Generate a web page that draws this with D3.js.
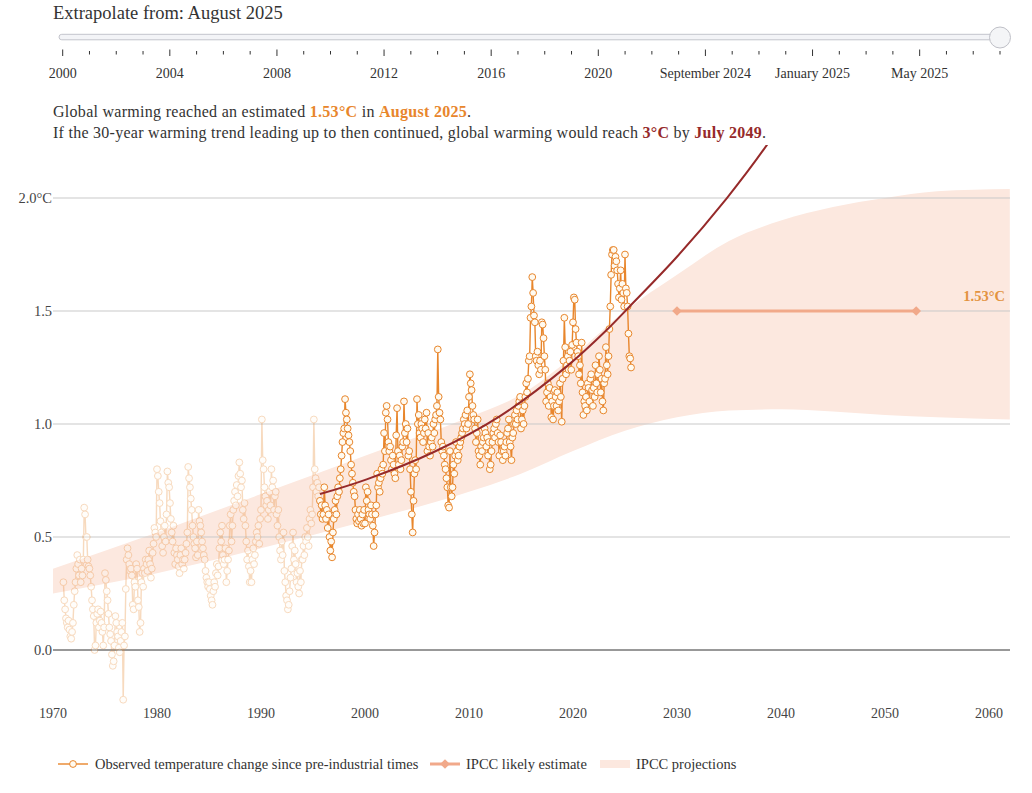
<!DOCTYPE html>
<html>
<head>
<meta charset="utf-8">
<script src="https://cdn.jsdelivr.net/npm/d3@7"></script>
<style>
  body { margin: 0; background: #fff; }
  svg { display: block; font-family: "Liberation Serif", "Times New Roman", serif; }
</style>
</head>
<body>
<div id="container"></div>
<script>
// monthly observed warming since pre-industrial, Jan 1971 .. Aug 2025
const firstYear = 1971;
const observed = [
  0.30, 0.22, 0.18, 0.14, 0.12, 0.10, 0.13, 0.09, 0.06, 0.05, 0.08, 0.12, // 1971
  0.20, 0.26, 0.30, 0.36, 0.42, 0.38, 0.33, 0.40, 0.30, 0.36, 0.33, 0.40, // 1972
  0.63, 0.60, 0.50, 0.50, 0.40, 0.37, 0.36, 0.33, 0.28, 0.22, 0.18, 0.15, // 1973
  0.00, 0.02, 0.12, 0.16, 0.18, 0.10, 0.13, 0.17, 0.12, 0.08, 0.02, 0.10, // 1974
  0.34, 0.31, 0.26, 0.22, 0.16, 0.10, 0.07, 0.04, -0.02, -0.07, -0.05, 0.02, // 1975
  0.15, 0.12, 0.08, 0.06, 0.01, -0.01, 0.04, 0.08, 0.12, -0.22, 0.02, 0.06, // 1976
  0.27, 0.40, 0.45, 0.42, 0.38, 0.35, 0.36, 0.33, 0.20, 0.18, 0.30, 0.28, // 1977
  0.38, 0.36, 0.22, 0.19, 0.08, 0.12, 0.30, 0.34, 0.28, 0.36, 0.34, 0.40, // 1978
  0.38, 0.35, 0.40, 0.44, 0.38, 0.32, 0.36, 0.43, 0.47, 0.54, 0.52, 0.50, // 1979
  0.80, 0.77, 0.70, 0.65, 0.57, 0.52, 0.46, 0.43, 0.50, 0.55, 0.48, 0.60, // 1980
  0.79, 0.74, 0.72, 0.65, 0.58, 0.52, 0.48, 0.55, 0.43, 0.38, 0.45, 0.42, // 1981
  0.40, 0.37, 0.34, 0.42, 0.45, 0.38, 0.40, 0.36, 0.40, 0.43, 0.47, 0.52, // 1982
  0.81, 0.76, 0.72, 0.67, 0.62, 0.55, 0.50, 0.47, 0.45, 0.41, 0.48, 0.42, // 1983
  0.62, 0.57, 0.55, 0.52, 0.48, 0.45, 0.42, 0.40, 0.35, 0.32, 0.30, 0.28, // 1984
  0.30, 0.27, 0.24, 0.22, 0.20, 0.26, 0.30, 0.28, 0.34, 0.38, 0.33, 0.37, // 1985
  0.45, 0.52, 0.48, 0.55, 0.42, 0.38, 0.40, 0.45, 0.30, 0.35, 0.40, 0.44, // 1986
  0.55, 0.60, 0.48, 0.55, 0.62, 0.66, 0.70, 0.64, 0.73, 0.68, 0.77, 0.83, // 1987
  0.78, 0.72, 0.75, 0.62, 0.58, 0.65, 0.55, 0.48, 0.40, 0.44, 0.37, 0.30, // 1988
  0.35, 0.30, 0.40, 0.45, 0.38, 0.42, 0.48, 0.52, 0.50, 0.55, 0.47, 0.58, // 1989
  0.62, 1.02, 0.84, 0.80, 0.72, 0.68, 0.64, 0.66, 0.58, 0.62, 0.70, 0.64, // 1990
  0.80, 0.72, 0.75, 0.62, 0.68, 0.70, 0.60, 0.55, 0.62, 0.50, 0.44, 0.40, // 1991
  0.48, 0.42, 0.52, 0.35, 0.30, 0.24, 0.22, 0.18, 0.20, 0.26, 0.32, 0.36, // 1992
  0.46, 0.52, 0.40, 0.44, 0.38, 0.30, 0.34, 0.28, 0.25, 0.35, 0.30, 0.40, // 1993
  0.40, 0.46, 0.42, 0.50, 0.48, 0.54, 0.50, 0.46, 0.58, 0.62, 0.56, 0.60, // 1994
  0.72, 1.02, 0.80, 0.76, 0.70, 0.74, 0.68, 0.72, 0.66, 0.60, 0.64, 0.58, // 1995
  0.60, 0.72, 0.64, 0.58, 0.62, 0.54, 0.60, 0.50, 0.44, 0.48, 0.41, 0.52, // 1996
  0.58, 0.62, 0.66, 0.60, 0.68, 0.72, 0.70, 0.76, 0.80, 0.86, 0.92, 0.96, // 1997
  0.98, 1.11, 1.05, 1.02, 0.98, 0.95, 0.92, 0.88, 0.82, 0.78, 0.74, 0.70, // 1998
  0.68, 0.62, 0.58, 0.56, 0.60, 0.57, 0.62, 0.58, 0.55, 0.60, 0.56, 0.62, // 1999
  0.56, 0.72, 0.66, 0.70, 0.62, 0.60, 0.58, 0.64, 0.60, 0.55, 0.46, 0.52, // 2000
  0.60, 0.64, 0.78, 0.72, 0.74, 0.70, 0.76, 0.80, 0.78, 0.82, 0.96, 0.88, // 2001
  1.05, 1.08, 1.02, 0.92, 0.88, 0.90, 0.84, 0.80, 0.86, 0.82, 0.78, 0.76, // 2002
  0.95, 1.07, 0.88, 0.82, 0.86, 0.80, 0.84, 0.90, 0.92, 1.10, 0.96, 1.00, // 2003
  0.92, 0.98, 0.86, 0.88, 0.80, 0.70, 0.60, 0.52, 0.66, 0.78, 0.84, 0.80, // 2004
  1.11, 1.00, 1.04, 0.96, 0.94, 1.00, 0.98, 0.92, 0.96, 1.02, 0.98, 1.05, // 2005
  0.88, 0.96, 0.90, 0.86, 0.92, 0.94, 0.90, 1.00, 0.96, 1.02, 1.04, 1.08, // 2006
  1.33, 1.12, 1.05, 1.02, 0.92, 0.88, 0.90, 0.86, 0.82, 0.80, 0.76, 0.72, // 2007
  0.64, 0.63, 0.88, 0.72, 0.68, 0.72, 0.82, 0.78, 0.86, 0.92, 0.88, 0.84, // 2008
  0.86, 0.90, 0.92, 0.94, 0.96, 0.98, 1.02, 1.00, 1.04, 0.98, 1.06, 1.00, // 2009
  1.12, 1.22, 1.18, 1.15, 1.08, 1.04, 1.02, 0.98, 0.92, 0.96, 1.02, 0.88, // 2010
  0.86, 0.82, 0.90, 0.88, 0.92, 0.94, 0.98, 0.96, 0.90, 0.94, 0.86, 0.92, // 2011
  0.80, 0.82, 0.88, 0.92, 0.96, 0.98, 0.94, 1.00, 1.02, 0.96, 0.92, 0.86, // 2012
  0.95, 0.92, 0.88, 0.84, 0.88, 0.90, 0.86, 0.92, 0.96, 0.98, 1.02, 0.92, // 2013
  0.90, 0.84, 0.94, 0.96, 1.00, 1.04, 1.00, 1.06, 1.02, 1.08, 1.10, 1.12, // 2014
  0.98, 1.02, 1.06, 1.00, 1.08, 1.12, 1.18, 1.14, 1.20, 1.28, 1.30, 1.47, // 2015
  1.52, 1.65, 1.58, 1.48, 1.45, 1.30, 1.28, 1.32, 1.26, 1.22, 1.28, 1.24, // 2016
  1.45, 1.44, 1.38, 1.30, 1.24, 1.10, 1.14, 1.18, 1.08, 1.16, 1.12, 1.03, // 2017
  1.10, 1.02, 1.08, 1.15, 1.12, 1.08, 1.14, 1.06, 1.10, 1.18, 1.12, 1.01, // 2018
  1.20, 1.28, 1.47, 1.34, 1.22, 1.26, 1.30, 1.24, 1.28, 1.32, 1.24, 1.35, // 2019
  1.45, 1.56, 1.55, 1.42, 1.36, 1.32, 1.30, 1.22, 1.26, 1.18, 1.36, 1.14, // 2020
  1.04, 1.10, 1.08, 1.12, 1.06, 1.18, 1.16, 1.10, 1.20, 1.22, 1.15, 1.08, // 2021
  1.16, 1.12, 1.26, 1.18, 1.14, 1.22, 1.30, 1.24, 1.14, 1.20, 1.10, 1.06, // 2022
  1.18, 1.20, 1.34, 1.26, 1.22, 1.30, 1.42, 1.52, 1.66, 1.75, 1.77, 1.77, // 2023
  1.70, 1.74, 1.72, 1.68, 1.62, 1.56, 1.60, 1.68, 1.55, 1.62, 1.58, 1.52, // 2024
  1.75, 1.60, 1.58, 1.52, 1.40, 1.30, 1.29, 1.25                          // 2025
];
// start of the 30-year window (September 1995)
const windowStart = 1995 + 8 / 12;

// extrapolated 30-year trend
const trendYears  = [1995.67, 2000.16, 2006.57, 2012.98, 2019.4, 2023.24, 2025.4, 2030, 2034.8, 2038.65, 2049.5];
const trendValues = [0.69, 0.755, 0.875, 1.035, 1.255, 1.416, 1.518, 1.74, 2.0, 2.235, 3.0];

// IPCC projection range
const bandYears = [1970, 1980, 1990, 2000, 2010, 2015, 2020, 2025, 2030, 2035, 2040, 2045, 2050, 2055, 2062];
const bandLow   = [0.25, 0.34, 0.45, 0.57, 0.70, 0.78, 0.88, 0.97, 1.03, 1.06, 1.065, 1.055, 1.04, 1.03, 1.02];
const bandHigh  = [0.36, 0.52, 0.69, 0.86, 1.03, 1.13, 1.30, 1.50, 1.66, 1.81, 1.90, 1.96, 2.00, 2.03, 2.04];

// IPCC likely estimate for reaching 1.5°C
const likelyYears = [2030, 2053];
const likelyValue = 1.5;
const currentWarming = 1.53;

const yTicks = [0, 0.5, 1.0, 1.5, 2.0];
const xTicks = [1970, 1980, 1990, 2000, 2010, 2020, 2030, 2040, 2050, 2060];

// slider: yearly steps 2000-2023, then monthly Sep 2024 - Aug 2025
const sliderTickCount = 36;
const sliderLabels = ["2000", "2004", "2008", "2012", "2016", "2020", "September 2024", "January 2025", "May 2025"];
const sliderValue = 35;

const orange = "#e8862c";
const darkRed = "#962a2a";
const textColor = "#333";

const width = 1032;
const height = 793;

const svg = d3.select("#container").append("svg")
  .attr("width", width)
  .attr("height", height);

// ---- slider ----
svg.append("text")
  .attr("x", 53).attr("y", 19)
  .attr("font-size", 18.5)
  .attr("fill", textColor)
  .text("Extrapolate from: August 2025");

const sx = d3.scaleLinear().domain([0, sliderTickCount - 1]).range([62.7, 1000]);

svg.append("rect")
  .attr("x", 59).attr("y", 34.3)
  .attr("width", 1000 - 59).attr("height", 5.5)
  .attr("rx", 2.75)
  .attr("fill", "#f3f4f7")
  .attr("stroke", "#c4c5cc");

const sliderTicks = svg.append("g");
d3.range(sliderTickCount).forEach((i) => {
  const major = i % 4 === 0;
  sliderTicks.append("line")
    .attr("x1", sx(i)).attr("x2", sx(i))
    .attr("y1", major ? 49.5 : 51).attr("y2", major ? 56 : 54.5)
    .attr("stroke", "#333")
    .attr("stroke-width", 1);
});
sliderTicks.selectAll("text")
  .data(sliderLabels)
  .join("text")
  .attr("x", (d, i) => sx(i * 4))
  .attr("y", 78)
  .attr("text-anchor", "middle")
  .attr("font-size", 14)
  .attr("fill", textColor)
  .text((d) => d);

svg.append("circle")
  .attr("cx", sx(sliderValue)).attr("cy", 37.5)
  .attr("r", 10.5)
  .attr("fill", "#f4f5f7")
  .attr("stroke", "#bfc0c7");

// ---- headline ----
const line1 = svg.append("text")
  .attr("x", 53).attr("y", 117)
  .attr("font-size", 16)
  .attr("fill", textColor)
  .attr("textLength", 418)
  .attr("lengthAdjust", "spacing");
line1.append("tspan").text("Global warming reached an estimated ");
line1.append("tspan").attr("font-weight", "bold").attr("fill", orange).text("1.53°C");
line1.append("tspan").text(" in ");
line1.append("tspan").attr("font-weight", "bold").attr("fill", orange).text("August 2025");
line1.append("tspan").text(".");

const line2 = svg.append("text")
  .attr("x", 53).attr("y", 138)
  .attr("font-size", 16)
  .attr("fill", textColor)
  .attr("textLength", 713)
  .attr("lengthAdjust", "spacing");
line2.append("tspan").text("If the 30-year warming trend leading up to then continued, global warming would reach ");
line2.append("tspan").attr("font-weight", "bold").attr("fill", darkRed).text("3°C");
line2.append("tspan").text(" by ");
line2.append("tspan").attr("font-weight", "bold").attr("fill", darkRed).text("July 2049");
line2.append("tspan").text(".");

// ---- chart ----
const x = d3.scaleLinear().domain([1970, 2062.02]).range([53, 1010]);
const y = d3.scaleLinear().domain([0, 2]).range([650, 198]);

const band = bandYears.map((t, i) => ({ t, lo: bandLow[i], hi: bandHigh[i] }));
svg.append("path")
  .datum(band)
  .attr("fill", "#fce8df")
  .attr("d", d3.area()
    .curve(d3.curveMonotoneX)
    .x((d) => x(d.t))
    .y0((d) => y(d.lo))
    .y1((d) => y(d.hi)));

const grid = svg.append("g");
grid.selectAll("line")
  .data(yTicks)
  .join("line")
  .attr("x1", 53).attr("x2", 1010)
  .attr("y1", (d) => y(d)).attr("y2", (d) => y(d))
  .attr("stroke", (d) => (d === 0 ? "#333" : "#c9c9c9"))
  .attr("stroke-width", 1);
grid.selectAll("text")
  .data(yTicks)
  .join("text")
  .attr("x", 52)
  .attr("y", (d) => y(d) + 5)
  .attr("text-anchor", "end")
  .attr("font-size", 14.5)
  .attr("fill", "#444")
  .text((d) => (d === 2 ? "2.0°C" : d3.format(".1f")(d)));

svg.append("g")
  .selectAll("text")
  .data(xTicks)
  .join("text")
  .attr("x", (d) => x(d))
  .attr("y", 718)
  .attr("text-anchor", "middle")
  .attr("font-size", 14)
  .attr("fill", "#444")
  .text((d) => d);

// IPCC likely estimate
svg.append("line")
  .attr("x1", x(likelyYears[0])).attr("x2", x(likelyYears[1]))
  .attr("y1", y(likelyValue)).attr("y2", y(likelyValue))
  .attr("stroke", "#f1a98a")
  .attr("stroke-width", 3);
svg.append("g")
  .selectAll("path")
  .data(likelyYears)
  .join("path")
  .attr("transform", (d) => `translate(${x(d)},${y(likelyValue)})`)
  .attr("d", d3.symbol(d3.symbolDiamond2, 60))
  .attr("fill", "#f1a98a");

// observed series
const obs = observed.map((v, i) => ({ t: firstYear + i / 12, v }));
const splitAt = obs.findIndex((d) => d.t >= windowStart - 1e-6);
const faded = obs.slice(0, splitAt);
const recent = obs.slice(splitAt);

const line = d3.line().x((d) => x(d.t)).y((d) => y(d.v));

function drawObserved(data, opacity) {
  const g = svg.append("g").attr("opacity", opacity);
  g.append("path")
    .datum(data)
    .attr("fill", "none")
    .attr("stroke", orange)
    .attr("stroke-width", 1.4)
    .attr("d", line);
  g.selectAll("circle")
    .data(data)
    .join("circle")
    .attr("cx", (d) => x(d.t))
    .attr("cy", (d) => y(d.v))
    .attr("r", 3.4)
    .attr("fill", "#fffaf0")
    .attr("stroke", orange)
    .attr("stroke-width", 1);
}
drawObserved(faded, 0.3);
drawObserved(recent, 1);

// trend extrapolation, clipped above the headline
svg.append("clipPath").attr("id", "trendClip")
  .append("rect").attr("x", 0).attr("y", 145).attr("width", width).attr("height", height - 145);
const trend = trendYears.map((t, i) => ({ t, v: trendValues[i] }));
svg.append("path")
  .datum(trend)
  .attr("clip-path", "url(#trendClip)")
  .attr("fill", "none")
  .attr("stroke", darkRed)
  .attr("stroke-width", 2)
  .attr("d", d3.line().curve(d3.curveCatmullRom).x((d) => x(d.t)).y((d) => y(d.v)));

svg.append("text")
  .attr("x", 1005)
  .attr("y", y(currentWarming) - 3)
  .attr("text-anchor", "end")
  .attr("font-size", 14.5)
  .attr("font-weight", "bold")
  .attr("fill", "#e39340")
  .text("1.53°C");

// ---- legend ----
const legend = svg.append("g").attr("font-size", 14.5).attr("fill", textColor);
legend.append("line")
  .attr("x1", 58).attr("x2", 88).attr("y1", 764).attr("y2", 764)
  .attr("stroke", orange).attr("stroke-width", 1.4);
legend.append("circle")
  .attr("cx", 73).attr("cy", 764).attr("r", 3.4)
  .attr("fill", "#fffaf0").attr("stroke", orange);
legend.append("text").attr("x", 95).attr("y", 769)
  .text("Observed temperature change since pre-industrial times");

legend.append("line")
  .attr("x1", 430).attr("x2", 460).attr("y1", 764).attr("y2", 764)
  .attr("stroke", "#f1a98a").attr("stroke-width", 3);
legend.append("path")
  .attr("transform", "translate(445,764)")
  .attr("d", d3.symbol(d3.symbolDiamond2, 60))
  .attr("fill", "#f1a98a");
legend.append("text").attr("x", 466).attr("y", 769).text("IPCC likely estimate");

legend.append("rect")
  .attr("x", 600).attr("y", 760).attr("width", 30).attr("height", 8)
  .attr("fill", "#fce8df");
legend.append("text").attr("x", 636).attr("y", 769).text("IPCC projections");
</script>
</body>
</html>
